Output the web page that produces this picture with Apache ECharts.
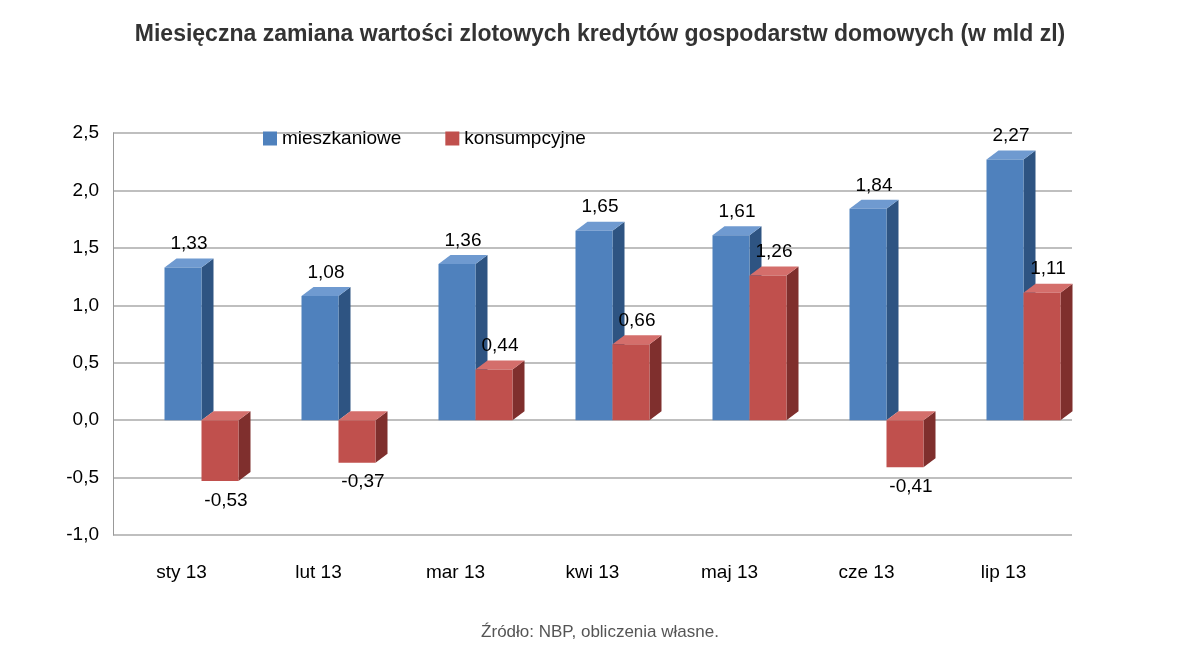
<!DOCTYPE html>
<html>
<head>
<meta charset="utf-8">
<script src="https://cdn.jsdelivr.net/npm/echarts@6/dist/echarts.min.js"></script>
<style>html,body{margin:0;background:#fff}#chart{width:1200px;height:670px}</style>
</head>
<body>
<div id="chart"></div>
<script>
// dane
var months = ['sty 13', 'lut 13', 'mar 13', 'kwi 13', 'maj 13', 'cze 13', 'lip 13'];
var mieszkaniowe = [1.33, 1.08, 1.36, 1.65, 1.61, 1.84, 2.27];
var konsumpcyjne = [-0.53, -0.37, 0.44, 0.66, 1.26, -0.41, 1.11];
var yTicks = { min: -1, max: 2.5, step: 0.5 };

function fmt(v, d) { return v.toFixed(d).replace('.', ','); }

// rysuje słupek "3D": front, bok i góra
function bar3d(offset, front, side, top) {
  return function (params, api) {
    var idx = api.value(0), val = api.value(1);
    var c = api.coord([idx, val]);
    var z = api.coord([idx, 0]);
    var w = 37, dx = 12, dy = 9;
    var x0 = c[0] + offset, x1 = x0 + w;
    var yTop = Math.min(c[1], z[1]), yBot = Math.max(c[1], z[1]);
    var up = val >= 0;
    return {
      type: 'group',
      children: [
        { type: 'polygon', shape: { points: [[x1, yTop], [x1 + dx, yTop - dy], [x1 + dx, yBot - dy], [x1, yBot]] }, style: { fill: side } },
        { type: 'polygon', shape: { points: [[x0, yTop], [x0 + dx, yTop - dy], [x1 + dx, yTop - dy], [x1, yTop]] }, style: { fill: top } },
        { type: 'rect', shape: { x: x0, y: yTop, width: w, height: yBot - yTop }, style: { fill: front } },
        { type: 'text', style: {
            text: fmt(val, 2), x: x0 + w / 2 + 6, y: up ? yTop - 14 : yBot + 10,
            textAlign: 'center', textVerticalAlign: up ? 'bottom' : 'top',
            fontSize: 19, fill: '#000', fontFamily: 'Liberation Sans' } }
      ]
    };
  };
}

var chart = echarts.init(document.getElementById('chart'));
chart.setOption({
  animation: false,
  textStyle: { fontFamily: 'Liberation Sans' },
  title: {
    text: 'Miesięczna zamiana wartości zlotowych kredytów gospodarstw domowych (w mld zl)',
    left: 'center', top: 18,
    textStyle: { fontSize: 23, fontWeight: 'bold', color: '#333' }
  },
  legend: {
    left: 258, top: 124, itemWidth: 14, itemHeight: 14, itemGap: 44,
    textStyle: { fontSize: 19, color: '#000' },
    data: [{ name: 'mieszkaniowe', icon: 'rect' }, { name: 'konsumpcyjne', icon: 'rect' }]
  },
  grid: { left: 113, right: 128, top: 133, bottom: 135 },
  xAxis: {
    type: 'category', data: months,
    axisLine: { show: false }, axisTick: { show: false },
    axisLabel: { fontSize: 19, color: '#000', margin: 28 }
  },
  yAxis: {
    type: 'value', min: yTicks.min, max: yTicks.max, interval: yTicks.step,
    axisLine: { show: true, lineStyle: { color: '#999' } },
    axisLabel: { fontSize: 19, color: '#000', margin: 14, formatter: function (v) { return fmt(v, 1); } },
    splitLine: { lineStyle: { color: '#aaa', width: 1.5 } }
  },
  series: [
    { name: 'mieszkaniowe', type: 'custom', itemStyle: { color: '#4F81BD' },
      renderItem: bar3d(-17, '#4F81BD', '#2E5482', '#6F9AD0'),
      data: mieszkaniowe.map(function (v, i) { return [i, v]; }) },
    { name: 'konsumpcyjne', type: 'custom', itemStyle: { color: '#C0504D' },
      renderItem: bar3d(20, '#C0504D', '#7F2F2D', '#D46E6B'),
      data: konsumpcyjne.map(function (v, i) { return [i, v]; }) }
  ],
  graphic: [{
    type: 'text', left: 'center', top: 624,
    style: { text: 'Źródło: NBP, obliczenia własne.', fontSize: 17, fill: '#555', fontFamily: 'Liberation Sans' }
  }]
});
</script>
</body>
</html>
